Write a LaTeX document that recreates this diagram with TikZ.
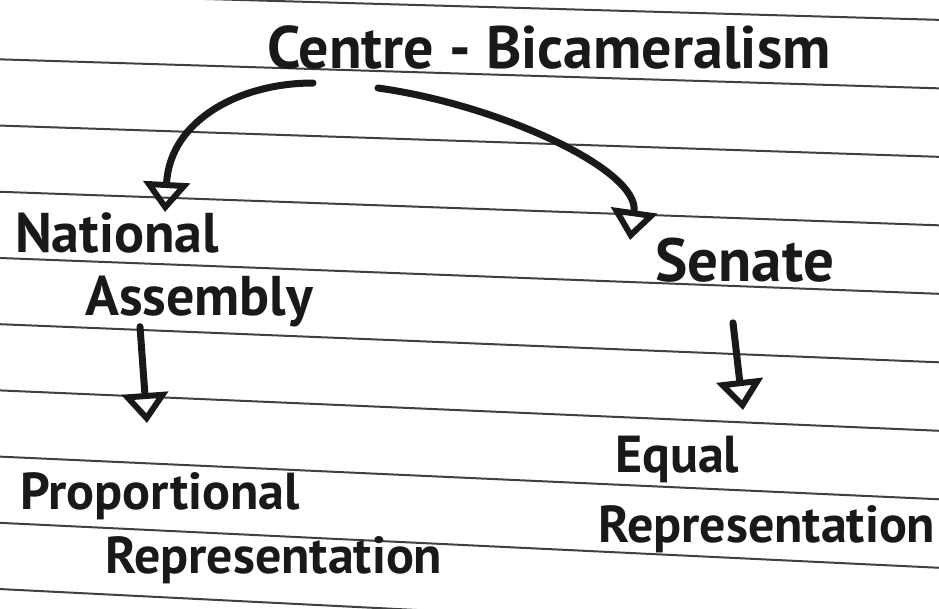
\documentclass[tikz,border=0pt]{standalone}
\usepackage{fontspec}
\setmainfont{PT Sans}
\usepackage{tikz}
\usetikzlibrary{arrows.meta, positioning}

\tikzset{
	hand/.style={inner sep=0pt, text=black!90},
	ruled/.style={black!75, line width=2pt},
	flow/.style={black!90, line width=7pt, line cap=round, -{Triangle[open, length=30pt, width=46pt, line width=6pt]}}
}
\newcommand{\handfont}[2]{\fontsize{#1}{#2}\bfseries\selectfont}

\begin{document}
\begin{tikzpicture}[x=1pt, y=-1pt]
		\useasboundingbox (0,0) rectangle (939,608);
			%ruled lines:
			\foreach \k in {0,...,9}
			\draw[ruled] (-5, -7+66.2*\k) -- (944, 20+68.5*\k);

			\node[hand, font=\handfont{60}{63}, anchor=base] (title) at (549, 68) {Centre - Bicameralism};
			\node[hand, font=\handfont{56}{63}, align=left, anchor=north west] (nat) at (15, 212) {National\\\hspace*{70pt}Assembly};
			\node[hand, font=\handfont{61}{63}, anchor=north west] (sen) at (655, 238) {Senate};
			\node[hand, font=\handfont{52}{64}, align=left, anchor=north west] (prop) at (20, 472) {Proportional\\\hspace*{85pt}Representation};
			\node[hand, font=\handfont{52}{70}, align=left, anchor=north west] (eq) at (598, 436) {\hspace*{17pt}Equal\\Representation};

			%bicameral split
			\draw[flow] ([shift={(-236,15)}]title.base) .. controls +(-73,0) and +(5,-92) .. ([xshift=150pt]nat.north west);
			\draw[flow] ([shift={(-171,20)}]title.base) .. controls +(122,17) and +(10,-70) .. ([xshift=-25pt, yshift=-2pt]sen.north west);

			%representation
			\draw[flow] ([shift={(125,0)}]nat.south west) -- ([shift={(127,-49)}]prop.north west);
			\draw[flow] ([shift={(78,40)}]sen.south west) -- ([shift={(145,-26)}]eq.north west);
	\end{tikzpicture}
\end{document}
